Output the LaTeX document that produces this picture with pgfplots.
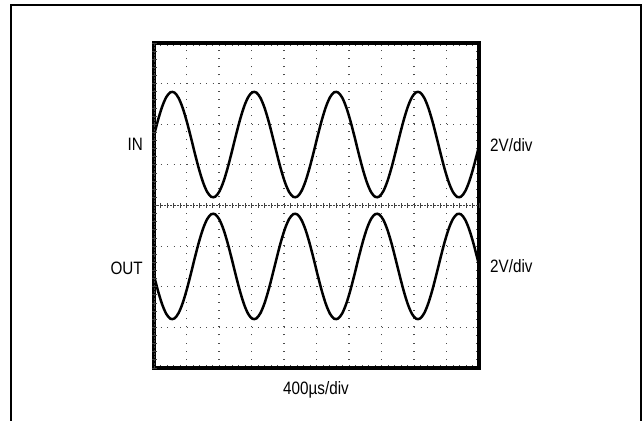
\documentclass[border=0pt]{standalone}
\usepackage{pgfplots}
\usepackage{pgfplotstable}
\pgfplotsset{compat=1.18}
\usepackage{fontspec}
\setmainfont{Liberation Sans}

% scope trace, 400us/div, 2V/div; x in divisions, y in divisions
\pgfplotstableread{
x      in      out
0.000  1.726  -1.726
0.126  2.110  -2.110
0.252  2.435  -2.435
0.378  2.668  -2.668
0.504  2.787  -2.787
0.630  2.780  -2.780
0.756  2.648  -2.648
0.882  2.403  -2.403
1.008  2.070  -2.070
1.134  1.681  -1.681
1.260  1.274  -1.274
1.386  0.890  -0.890
1.512  0.565  -0.565
1.638  0.332  -0.332
1.764  0.213  -0.213
1.890  0.220  -0.220
2.016  0.352  -0.352
2.142  0.597  -0.597
2.268  0.930  -0.930
2.394  1.319  -1.319
2.520  1.726  -1.726
2.646  2.110  -2.110
2.772  2.435  -2.435
2.898  2.668  -2.668
3.024  2.787  -2.787
3.150  2.780  -2.780
3.276  2.648  -2.648
3.402  2.403  -2.403
3.528  2.070  -2.070
3.654  1.681  -1.681
3.780  1.274  -1.274
3.906  0.890  -0.890
4.032  0.565  -0.565
4.158  0.332  -0.332
4.284  0.213  -0.213
4.410  0.220  -0.220
4.536  0.352  -0.352
4.662  0.597  -0.597
4.788  0.930  -0.930
4.914  1.319  -1.319
5.040  1.726  -1.726
5.166  2.110  -2.110
5.292  2.435  -2.435
5.418  2.668  -2.668
5.544  2.787  -2.787
5.670  2.780  -2.780
5.796  2.648  -2.648
5.922  2.403  -2.403
6.048  2.070  -2.070
6.174  1.681  -1.681
6.300  1.274  -1.274
6.426  0.890  -0.890
6.552  0.565  -0.565
6.678  0.332  -0.332
6.804  0.213  -0.213
6.930  0.220  -0.220
7.056  0.352  -0.352
7.182  0.597  -0.597
7.308  0.930  -0.930
7.434  1.319  -1.319
7.560  1.726  -1.726
7.686  2.110  -2.110
7.812  2.435  -2.435
7.938  2.668  -2.668
8.064  2.787  -2.787
8.190  2.780  -2.780
8.316  2.648  -2.648
8.442  2.403  -2.403
8.568  2.070  -2.070
8.694  1.681  -1.681
8.820  1.274  -1.274
8.946  0.890  -0.890
9.072  0.565  -0.565
9.198  0.332  -0.332
9.324  0.213  -0.213
9.450  0.220  -0.220
9.576  0.352  -0.352
9.702  0.597  -0.597
9.828  0.930  -0.930
9.954  1.319  -1.319
10.080 1.726  -1.726
}\scope

\newcommand{\lbl}[1]{\fontsize{18}{20}\selectfont\scalebox{0.85}[1]{#1}}

\begin{document}
\begin{tikzpicture}
\useasboundingbox (0,0) rectangle (642bp,421bp);
% outer frame
\draw[line width=2bp] (10.5bp,0) -- (10.5bp,415.5bp) -- (640.5bp,415.5bp) -- (640.5bp,0);

\begin{axis}[at={(154bp,53bp)},anchor=south west,scale only axis,
  width=325bp,height=325bp,xmin=0,xmax=10,ymin=-4,ymax=4,enlargelimits=false,
  xtick={0,...,10},ytick={-4,...,4},minor x tick num=4,minor y tick num=4,
  xticklabel=\empty,yticklabel=\empty,tick align=inside,
  major tick length=3bp,minor tick length=3bp,
  tick style={black!70,line width=0.8bp},
  grid=major,
  x grid style={black!70,line width=1.1bp,dash pattern=on 1.1bp off 7.025bp},
  y grid style={black!70,line width=1.1bp,dash pattern=on 1.1bp off 5.4bp},
  axis line style={line width=3.2bp}]
\addplot[black,line width=2.5bp,smooth] table[x=x,y=in]{\scope};
\addplot[black,line width=2.5bp,smooth] table[x=x,y=out]{\scope};
\end{axis}

% centre crosshair with 0.2 div ticks
\begin{axis}[at={(154bp,53bp)},anchor=south west,scale only axis,
  width=325bp,height=325bp,xmin=0,xmax=10,ymin=-4,ymax=4,enlargelimits=false,
  axis lines=middle,axis line style={-,black!75,line width=0.9bp,dash pattern=on 2bp off 1.25bp},
  xtick={0,...,10},ytick={-4,...,4},minor x tick num=4,minor y tick num=4,
  xticklabel=\empty,yticklabel=\empty,tick align=center,
  major tick length=5bp,minor tick length=5bp,
  tick style={black!75,line width=0.8bp}]
\end{axis}

\node[anchor=base east,inner sep=0] at (143bp,270.5bp) {\lbl{IN}};
\node[anchor=base east,inner sep=0] at (143bp,146bp) {\lbl{OUT}};
\node[anchor=base west,inner sep=0] at (490bp,269bp) {\lbl{2V/div}};
\node[anchor=base west,inner sep=0] at (490bp,148bp) {\lbl{2V/div}};
\node[anchor=base,inner sep=0] at (316bp,27bp) {\lbl{400µs/div}};
\end{tikzpicture}
\end{document}
